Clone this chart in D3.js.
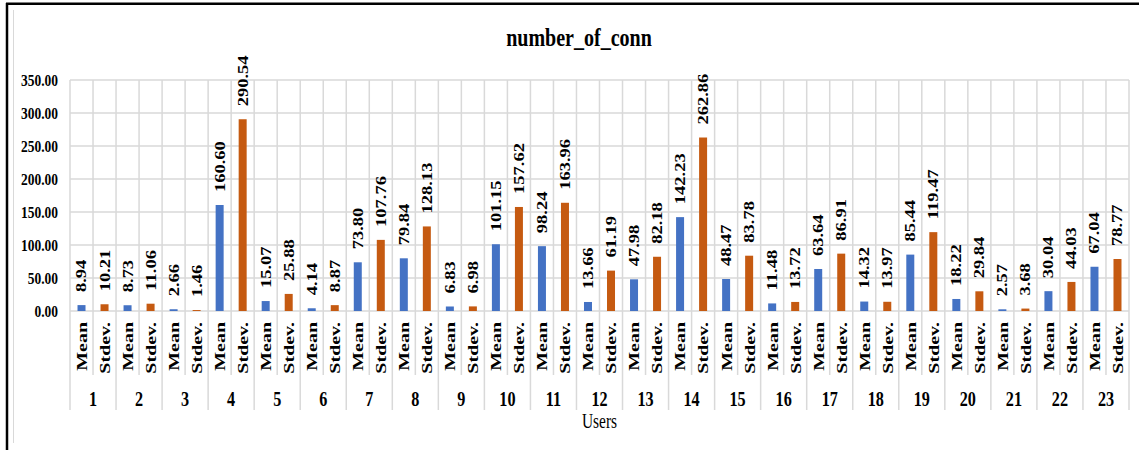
<!DOCTYPE html>
<html>
<head>
<meta charset="utf-8">
<script src="https://cdn.jsdelivr.net/npm/d3@7"></script>
<style>
  body { margin: 0; background: #fff; }
</style>
</head>
<body>
<svg id="chart" width="1139" height="450"></svg>
<script>
const users = ["1","2","3","4","5","6","7","8","9","10","11","12","13","14","15","16","17","18","19","20","21","22","23"];
const measures = ["Mean", "Stdev."];
const meanVals = [8.94, 8.73, 2.66, 160.60, 15.07, 4.14, 73.80, 79.84, 6.83, 101.15, 98.24, 13.66, 47.98, 142.23, 48.47, 11.48, 63.64, 14.32, 85.44, 18.22, 2.57, 30.04, 67.04];
const stdevVals = [10.21, 11.06, 1.46, 290.54, 25.88, 8.87, 107.76, 128.13, 6.98, 157.62, 163.96, 61.19, 82.18, 262.86, 83.78, 13.72, 86.91, 13.97, 119.47, 29.84, 3.68, 44.03, 78.77];
const yTicks = [0, 50, 100, 150, 200, 250, 300, 350];
const colors = ["#4472C4", "#C55A11"];

const FONT = '"Liberation Serif", "Times New Roman", serif';
// the picture is squeezed sideways, so everything is drawn in a wider frame and scaled on x
const sx = 0.77;
const plotL = 70, plotR = 1129, plotT = 80, plotB = 311;

let rows = [];
users.forEach((u, i) => {
    rows.push({ user: u, m: "Mean", value: meanVals[i] });
    rows.push({ user: u, m: "Stdev.", value: stdevVals[i] });
});

function txt(sel, size, bold) {
    return sel.style("font-family", FONT).style("font-size", size + "px")
        .style("font-weight", bold ? "bold" : "normal").attr("fill", "#000");
}

const svg = d3.select("#chart");
svg.append("rect").attr("width", 1139).attr("height", 450).attr("fill", "#fff");

const g = svg.append("g").attr("transform", `scale(${sx},1)`);

let x0 = d3.scaleBand().domain(users).range([plotL / sx, plotR / sx]);
let x1 = d3.scaleBand().domain(measures).range([0, x0.bandwidth()]);
let y = d3.scaleLinear().domain([0, 350]).range([plotB, plotT]);
const barW = 8 / sx;

// horizontal grid
g.append("g").selectAll("line").data(yTicks).enter().append("line")
    .attr("x1", plotL / sx).attr("x2", plotR / sx)
    .attr("y1", d => y(d)).attr("y2", d => y(d))
    .attr("stroke", "#d9d9d9").attr("stroke-width", 1.5);

// vertical grid + category ticks below the axis
let bounds = [];
users.forEach(u => {
    bounds.push({ x: x0(u), outer: true });
    bounds.push({ x: x0(u) + x1("Stdev."), outer: false });
});
bounds.push({ x: plotR / sx, outer: true });
g.append("g").selectAll("line").data(bounds).enter().append("line")
    .attr("x1", d => d.x).attr("x2", d => d.x)
    .attr("y1", plotT).attr("y2", d => d.outer ? 410 : 375)
    .attr("stroke", "#d9d9d9").attr("stroke-width", 1.5)
    .attr("vector-effect", "non-scaling-stroke");

// y axis labels
const gy = g.append("g").attr("transform", `translate(${plotL / sx},0)`)
    .call(d3.axisLeft(y).tickValues(yTicks).tickFormat(d3.format(".2f")).tickSize(0).tickPadding(12 / sx));
gy.select(".domain").remove();
txt(gy.selectAll("text"), 17.5, true);

// bars
g.append("g").selectAll("rect").data(rows).enter().append("rect")
    .attr("x", d => x0(d.user) + x1(d.m) + (x1.bandwidth() - barW) / 2)
    .attr("y", d => y(d.value))
    .attr("width", barW)
    .attr("height", d => y(0) - y(d.value))
    .attr("fill", d => d.m == "Mean" ? colors[0] : colors[1]);

// value labels
txt(g.append("g").selectAll("text").data(rows).enter().append("text"), 18.5, true)
    .attr("transform", d => `translate(${x0(d.user) + x1(d.m) + x1.bandwidth() / 2},${y(d.value) - 13}) rotate(-90)`)
    .attr("dy", "0.35em")
    .text(d => d.value.toFixed(2));

// category labels
txt(g.append("g").selectAll("text").data(rows).enter().append("text"), 20, true)
    .attr("transform", d => `translate(${x0(d.user) + x1(d.m) + x1.bandwidth() / 2},322) rotate(-90)`)
    .attr("dy", "0.35em")
    .attr("text-anchor", "end")
    .text(d => d.m);

// user numbers
txt(g.append("g").selectAll("text").data(users).enter().append("text"), 21, true)
    .attr("x", d => x0(d) + x0.bandwidth() / 2)
    .attr("y", 406)
    .attr("text-anchor", "middle")
    .text(d => d);

txt(g.append("text"), 20, false)
    .attr("x", (plotL + plotR) / 2 / sx).attr("y", 428)
    .attr("text-anchor", "middle")
    .text("Users");

txt(g.append("text"), 26, true)
    .attr("x", 579 / sx).attr("y", 46)
    .attr("text-anchor", "middle")
    .text("number_of_conn");

// frame
svg.append("line").attr("x1", 13.5).attr("x2", 13.5).attr("y1", 10).attr("y2", 443)
    .attr("stroke", "#d9d9d9").attr("stroke-width", 1);
svg.append("line").attr("x1", 6).attr("x2", 1139).attr("y1", 3.7).attr("y2", 3.7)
    .attr("stroke", "#000").attr("stroke-width", 2.5);
svg.append("line").attr("x1", 7).attr("x2", 7).attr("y1", 3).attr("y2", 450)
    .attr("stroke", "#000").attr("stroke-width", 2.5);
</script>
</body>
</html>
